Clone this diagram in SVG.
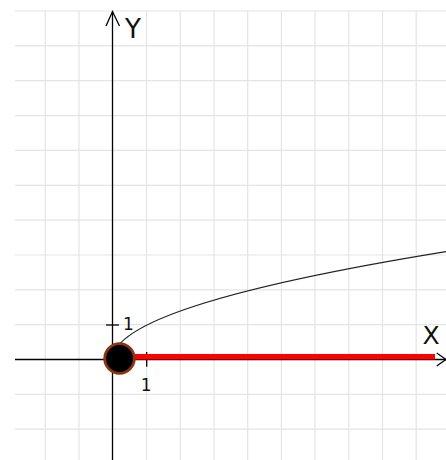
<svg xmlns="http://www.w3.org/2000/svg" width="446" height="460" viewBox="0 0 446 460">
<style>
.grid{stroke:#e4e4e4;stroke-width:1.2;fill:none}
.axis{stroke:#000;stroke-width:1.3;fill:none}
.lbl{font-family:"DejaVu Sans",sans-serif;fill:#111}
</style>
<rect width="446" height="460" fill="#fff"/>
<g id="grid" class="grid">
<path d="M45.3 11V460M79 11V460M146.5 11V460M180.2 11V460M214 11V460M247.7 11V460M281.4 11V460M315 11V460M348.8 11V460M382.5 11V460M416.2 11V460"/>
<path d="M15 11H446M15 45.9H446M15 80.7H446M15 115.6H446M15 150.4H446M15 185.3H446M15 220.1H446M15 255H446M15 289.8H446M15 324.7H446M15 394.4H446M15 429.2H446"/>
</g>
<g id="axes" class="axis">
<path d="M15 359.5H446"/>
<path d="M112.5 11.5V460"/>
<path d="M106 26L112.5 11.5L119.5 26"/>
<path d="M436.7 353L446 359.5L436.7 366"/>
<path d="M106 325H119"/>
<path d="M146.7 352V366.7"/>
</g>
<g id="labels" class="lbl">
<text x="125" y="38.3" font-size="26">Y</text>
<text x="422.5" y="344" font-size="25">X</text>
<text x="123" y="330" font-size="17">1</text>
<text x="140.8" y="390.7" font-size="17">1</text>
</g>
<g id="curve">
<path d="M112.5 359.8Q112.5 305.7 446 251.6" fill="none" stroke="#222" stroke-width="1.1"/>
</g>
<g id="ray">
<path d="M119 356.8H435" stroke="#ff0000" stroke-width="5.5" fill="none"/>
</g>
<g id="point">
<circle cx="119.5" cy="358.5" r="14.8" fill="#000" stroke="#8a3412" stroke-width="2.8"/>
</g>
</svg>
